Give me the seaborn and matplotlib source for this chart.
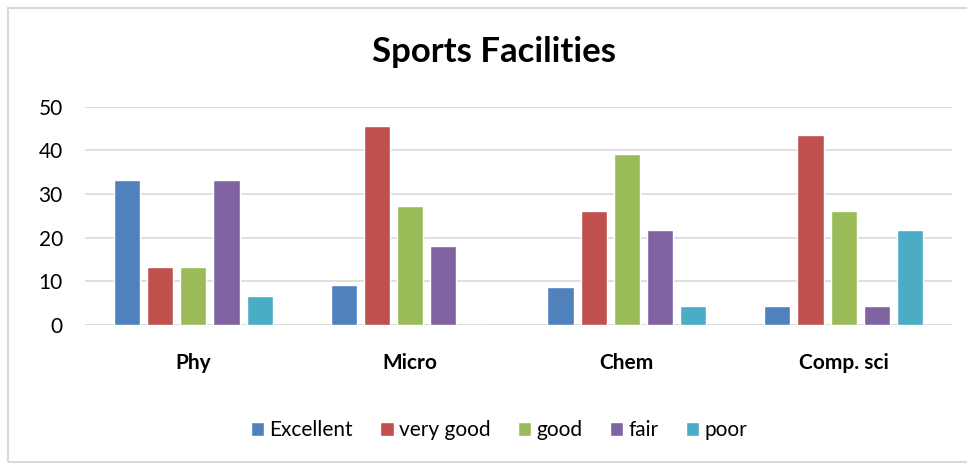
import matplotlib
matplotlib.use("Agg")
import matplotlib.pyplot as plt
import seaborn as sns
import pandas as pd
from matplotlib.patches import Rectangle

# data (percent)
departments = ["Phy", "Micro", "Chem", "Comp. sci"]
ratings = ["Excellent", "very good", "good", "fair", "poor"]
excellent = [33.3, 9.1, 8.7, 4.3]
very_good = [13.3, 45.5, 26.1, 43.5]
good = [13.3, 27.3, 39.1, 26.1]
fair = [33.3, 18.2, 21.7, 4.3]
poor = [6.7, 0.0, 4.3, 21.7]
colors = ["#4F81BD", "#C0504D", "#9BBB59", "#8064A2", "#4BACC6"]

rows = []
for rating, vals in zip(ratings, [excellent, very_good, good, fair, poor]):
    for dep, v in zip(departments, vals):
        rows.append({"dept": dep, "rating": rating, "value": v})
df = pd.DataFrame(rows)

sns.set_style("white")
plt.rcParams["font.family"] = ["Lato", "DejaVu Sans"]
plt.rcParams["text.color"] = "black"
plt.rcParams["xtick.color"] = "black"
plt.rcParams["ytick.color"] = "black"

fig = plt.figure(figsize=(9.67, 4.66), dpi=100)
ax = fig.add_axes([85 / 967, 1 - 325 / 466, 867 / 967, 218.3 / 466])

sns.barplot(data=df, x="dept", y="value", hue="rating", order=departments,
            hue_order=ratings, palette=colors, width=0.765, gap=0.21,
            saturation=1, ax=ax, legend=True)

ax.set_ylim(0, 50)
ax.set_xlim(-0.5, 3.5)
ax.set_yticks([0, 10, 20, 30, 40, 50])
ax.yaxis.grid(True, color="#D9D9D9", linewidth=1.2)
ax.set_axisbelow(True)
for s in ax.spines.values():
    s.set_visible(False)
ax.axhline(0, color="#D9D9D9", linewidth=1.2, zorder=0)
ax.tick_params(axis="y", length=0, pad=16, labelsize=15, labelcolor="black")
ax.tick_params(axis="x", length=0, pad=20, labelsize=15, labelcolor="black")
for lab in ax.get_xticklabels():
    lab.set_fontweight("bold")
ax.set_xlabel("")
ax.set_ylabel("")

handles, labels = ax.get_legend_handles_labels()
ax.legend_.remove()
fig.legend(handles, labels, loc="center", bbox_to_anchor=(499 / 967, 1 - 430 / 466),
           ncol=5, frameon=False, fontsize=15, handlelength=0.65, handleheight=0.65,
           handletextpad=0.25, columnspacing=1.3, labelcolor="black")

fig.text(494 / 967, 1 - 52 / 466, "Sports Facilities", ha="center", va="center",
         fontsize=25, fontweight="bold", color="black")

# chart border
fig.patches.append(Rectangle((8 / 967, 4 / 466), 1.2, 1 - 12 / 466,
                             transform=fig.transFigure, fill=False,
                             edgecolor="#D9D9D9", linewidth=1.5))

fig.savefig("out.png", dpi=100)
